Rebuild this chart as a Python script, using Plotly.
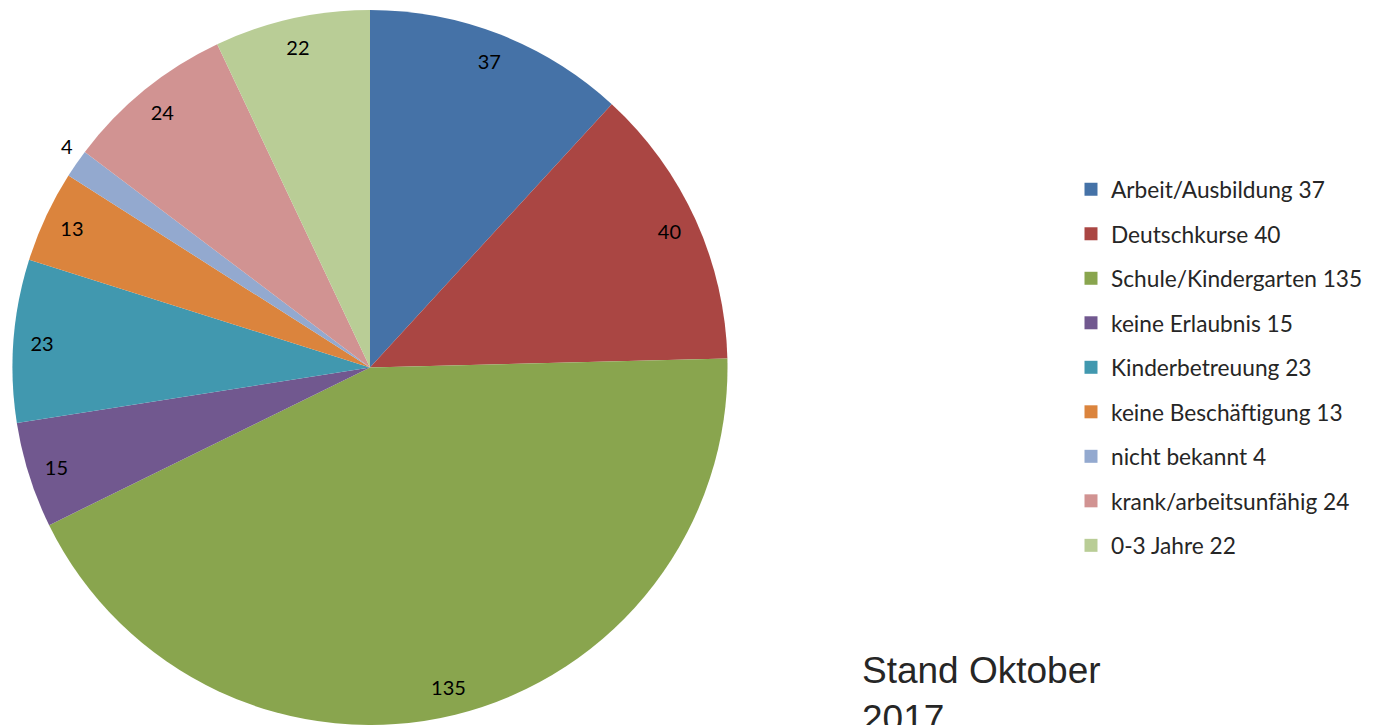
import math
import plotly.graph_objects as go

categories = ["Arbeit/Ausbildung", "Deutschkurse", "Schule/Kindergarten", "keine Erlaubnis",
              "Kinderbetreuung", "keine Beschäftigung", "nicht bekannt", "krank/arbeitsunfähig",
              "0-3 Jahre"]
values = [37, 40, 135, 15, 23, 13, 4, 24, 22]
colors = ["#4572A7", "#AA4643", "#89A54E", "#71588F", "#4198AF", "#DB843D", "#93A9CF",
          "#D19392", "#B9CD96"]

W, H = 1377, 725
FONT = "Lato"
cx, cy, r = 370, 367.5, 357.5
dom_x = [(cx - r) / W, (cx + r) / W]
dom_y = [0, 1 - (cy - r) / H]
SMALL = 8  # slices below this get their label outside the rim

fig = go.Figure()
fig.add_trace(go.Pie(
    labels=categories, values=values, sort=False, direction="clockwise", rotation=0,
    marker=dict(colors=colors, line=dict(width=0)),
    textinfo="none", showlegend=False, domain=dict(x=dom_x, y=dom_y),
))
# label ring (transparent) to place value labels near the rim
fig.add_trace(go.Pie(
    labels=categories, values=values, sort=False, direction="clockwise", rotation=0,
    hole=0.84, marker=dict(colors=["rgba(0,0,0,0)"] * len(values), line=dict(width=0)),
    text=[str(v) if v >= SMALL else "" for v in values], textinfo="text",
    textposition="inside", insidetextorientation="horizontal",
    textfont=dict(family=FONT, size=20, color="#000000"),
    hoverinfo="skip", showlegend=False, domain=dict(x=dom_x, y=dom_y),
))
# outside labels for small slices, placed beyond the rim at the slice's closing edge
total = sum(values)
cum = 0
for v in values:
    cum += v
    if v < SMALL:
        ang = math.pi / 2 - 2 * math.pi * (cum / total)
        px = cx + 1.09 * r * math.cos(ang)
        py = cy - 1.09 * r * math.sin(ang)
        fig.add_annotation(x=px / W, y=1 - py / H, xref="paper", yref="paper",
                           text=str(v), showarrow=False,
                           font=dict(family=FONT, size=20, color="#000000"))

# legend entries
for i, (c, v, col) in enumerate(zip(categories, values, colors)):
    fig.add_trace(go.Scatter(
        x=[None], y=[None], mode="markers", name=f"{c} {v}",
        marker=dict(symbol="square", size=13, color=col),
        legendgroup=f"g{i}", showlegend=True,
    ))

fig.add_annotation(
    x=860 / W, y=1 - 648 / H, xref="paper", yref="paper", xanchor="left", yanchor="top",
    text="Stand Oktober<br>2017", showarrow=False, align="left",
    font=dict(family="Liberation Sans, Arial", size=37, color="#262626"),
)

fig.update_layout(
    width=W, height=H, margin=dict(l=0, r=0, t=0, b=0),
    paper_bgcolor="white", plot_bgcolor="white",
    xaxis=dict(visible=False), yaxis=dict(visible=False),
    uniformtext=dict(minsize=20, mode="show"),
    legend=dict(x=1071 / W, y=1 - 168 / H, xanchor="left", yanchor="top",
                traceorder="grouped", tracegroupgap=12,
                font=dict(family=FONT, size=22.7, color="#262626"),
                itemsizing="trace"),
)

fig.write_html("out.html", config={"displayModeBar": False},
               post_script="document.body.style.margin='0px';")
